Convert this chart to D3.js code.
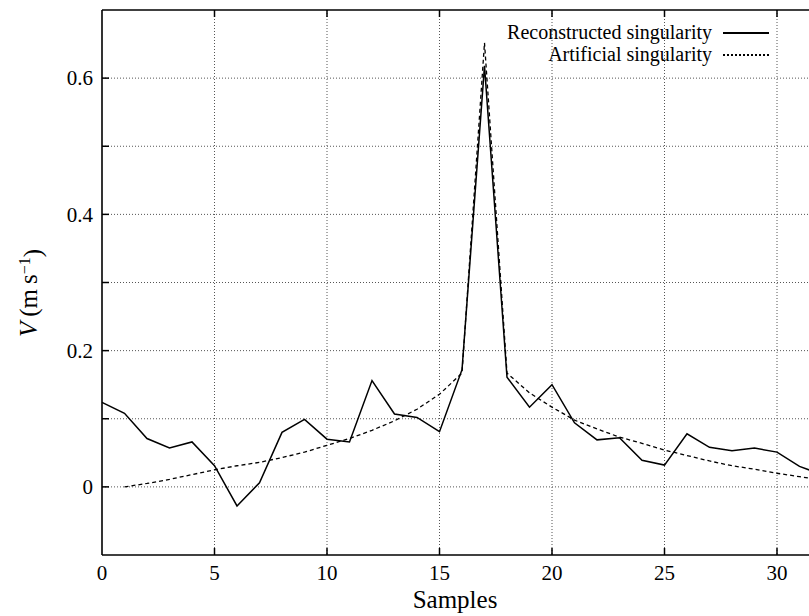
<!DOCTYPE html>
<html>
<head>
<meta charset="utf-8">
<script src="https://cdn.jsdelivr.net/npm/d3@7"></script>
<style>
  body { margin: 0; background: #fff; }
  svg text { font-family: "Liberation Serif", "Times New Roman", Times, "DejaVu Serif", serif; }
</style>
</head>
<body>
<div id="chart"></div>
<script>
var reconstructed = [0.124, 0.108, 0.071, 0.057, 0.066, 0.031, -0.028, 0.006, 0.080, 0.099,
                     0.070, 0.066, 0.156, 0.107, 0.102, 0.081, 0.172, 0.618, 0.161, 0.117,
                     0.150, 0.094, 0.069, 0.072, 0.039, 0.032, 0.078, 0.058, 0.053, 0.057,
                     0.051, 0.030, 0.018];
var artificial = [null, 0.000, 0.005, 0.011, 0.018, 0.025, 0.031, 0.036, 0.043, 0.051,
                  0.061, 0.071, 0.083, 0.097, 0.114, 0.136, 0.167, 0.652, 0.167, 0.138,
                  0.117, 0.098, 0.085, 0.073, 0.064, 0.054, 0.046, 0.038, 0.031, 0.026,
                  0.020, 0.015, 0.010];
var xTicks = [0, 5, 10, 15, 20, 25, 30];
var yTicks = [0, 0.2, 0.4, 0.6];
var yMinor = [0.1, 0.3, 0.5];

var width = 809, height = 616;
var margin = {left: 102, top: 10, bottom: 61};
var serif = '"Liberation Serif", "Times New Roman", Times, "DejaVu Serif", serif';

var svg = d3.select('#chart').append('svg')
    .attr('width', width)
    .attr('height', height)
    .attr('font-family', serif);

var x = d3.scaleLinear().domain([0, 34]).range([margin.left, margin.left + 34 * 22.5]);
var y = d3.scaleLinear().domain([-0.1, 0.7]).range([height - margin.bottom, margin.top]);

var grid = svg.append('g')
    .attr('stroke', '#555')
    .attr('stroke-width', 1)
    .attr('stroke-dasharray', '1,2');

grid.selectAll('line.v')
    .data(xTicks.filter(function(d) { return d > 0; }))
    .enter().append('line')
    .attr('x1', function(d) { return x(d); })
    .attr('x2', function(d) { return x(d); })
    .attr('y1', y(0.7))
    .attr('y2', y(-0.1));

grid.selectAll('line.h')
    .data(yTicks.concat(yMinor))
    .enter().append('line')
    .attr('x1', x(0))
    .attr('x2', width)
    .attr('y1', function(d) { return y(d); })
    .attr('y2', function(d) { return y(d); });

// frame
svg.append('line')
    .attr('x1', x(0)).attr('x2', x(0))
    .attr('y1', y(0.7)).attr('y2', y(-0.1))
    .attr('stroke', '#000').attr('stroke-width', 1.6);
svg.append('line')
    .attr('x1', x(0)).attr('x2', width)
    .attr('y1', y(-0.1)).attr('y2', y(-0.1))
    .attr('stroke', '#000').attr('stroke-width', 1.6);
svg.append('line')
    .attr('x1', x(0)).attr('x2', width)
    .attr('y1', y(0.7)).attr('y2', y(0.7))
    .attr('stroke', '#000').attr('stroke-width', 1.6);

// ticks (inward, mirrored on top)
var tickLen = 7;
svg.append('g').selectAll('line')
    .data(xTicks.filter(function(d) { return d > 0; }))
    .enter().append('line')
    .attr('x1', function(d) { return x(d); })
    .attr('x2', function(d) { return x(d); })
    .attr('y1', y(-0.1))
    .attr('y2', y(-0.1) - tickLen)
    .attr('stroke', '#000').attr('stroke-width', 1.5);
svg.append('g').selectAll('line')
    .data(xTicks.filter(function(d) { return d > 0; }))
    .enter().append('line')
    .attr('x1', function(d) { return x(d); })
    .attr('x2', function(d) { return x(d); })
    .attr('y1', y(0.7))
    .attr('y2', y(0.7) + tickLen)
    .attr('stroke', '#000').attr('stroke-width', 1.5);
svg.append('g').selectAll('line')
    .data(yTicks.concat(yMinor))
    .enter().append('line')
    .attr('x1', x(0))
    .attr('x2', x(0) + tickLen)
    .attr('y1', function(d) { return y(d); })
    .attr('y2', function(d) { return y(d); })
    .attr('stroke', '#000').attr('stroke-width', 1.5);

// tick labels
var fmt = d3.format('');
svg.append('g').selectAll('text')
    .data(xTicks)
    .enter().append('text')
    .attr('x', function(d) { return x(d); })
    .attr('y', 580)
    .attr('text-anchor', 'middle')
    .style('font-size', '21px')
    .text(function(d) { return d; });
svg.append('g').selectAll('text')
    .data(yTicks)
    .enter().append('text')
    .attr('x', 93)
    .attr('y', function(d) { return y(d); })
    .attr('dy', '0.35em')
    .attr('text-anchor', 'end')
    .style('font-size', '21px')
    .text(function(d) { return fmt(d); });

// axis titles
svg.append('text')
    .attr('x', 455)
    .attr('y', 608)
    .attr('text-anchor', 'middle')
    .style('font-size', '25px')
    .text('Samples');

var ylab = svg.append('text')
    .attr('transform', 'translate(37,293) rotate(-90)')
    .attr('text-anchor', 'middle')
    .style('font-size', '25px');
ylab.append('tspan').style('font-style', 'italic').text('V');
ylab.append('tspan').text('\u2009(m\u2009s');
ylab.append('tspan').attr('dy', '-0.45em').style('font-size', '16px').text('\u22121');
ylab.append('tspan').attr('dy', '0.45em').text(')');

// series
var line = d3.line()
    .defined(function(d) { return d != null; })
    .x(function(d, i) { return x(i); })
    .y(function(d) { return y(d); });

svg.append('path')
    .datum(artificial)
    .attr('fill', 'none')
    .attr('stroke', '#000')
    .attr('stroke-width', 1.3)
    .attr('stroke-dasharray', '4,3')
    .attr('d', line);

svg.append('path')
    .datum(reconstructed)
    .attr('fill', 'none')
    .attr('stroke', '#000')
    .attr('stroke-width', 1.5)
    .attr('stroke-linejoin', 'miter')
    .attr('d', line);

// legend
var legend = svg.append('g');
legend.append('text')
    .attr('x', 712).attr('y', 39)
    .attr('text-anchor', 'end')
    .style('font-size', '20px')
    .text('Reconstructed singularity');
legend.append('line')
    .attr('x1', 723).attr('x2', 769)
    .attr('y1', 33).attr('y2', 33)
    .attr('stroke', '#000').attr('stroke-width', 2.2);
legend.append('text')
    .attr('x', 712).attr('y', 61)
    .attr('text-anchor', 'end')
    .style('font-size', '20px')
    .text('Artificial singularity');
legend.append('line')
    .attr('x1', 723).attr('x2', 769)
    .attr('y1', 55).attr('y2', 55)
    .attr('stroke', '#000').attr('stroke-width', 1.8)
    .attr('stroke-dasharray', '2,2');
</script>
</body>
</html>
